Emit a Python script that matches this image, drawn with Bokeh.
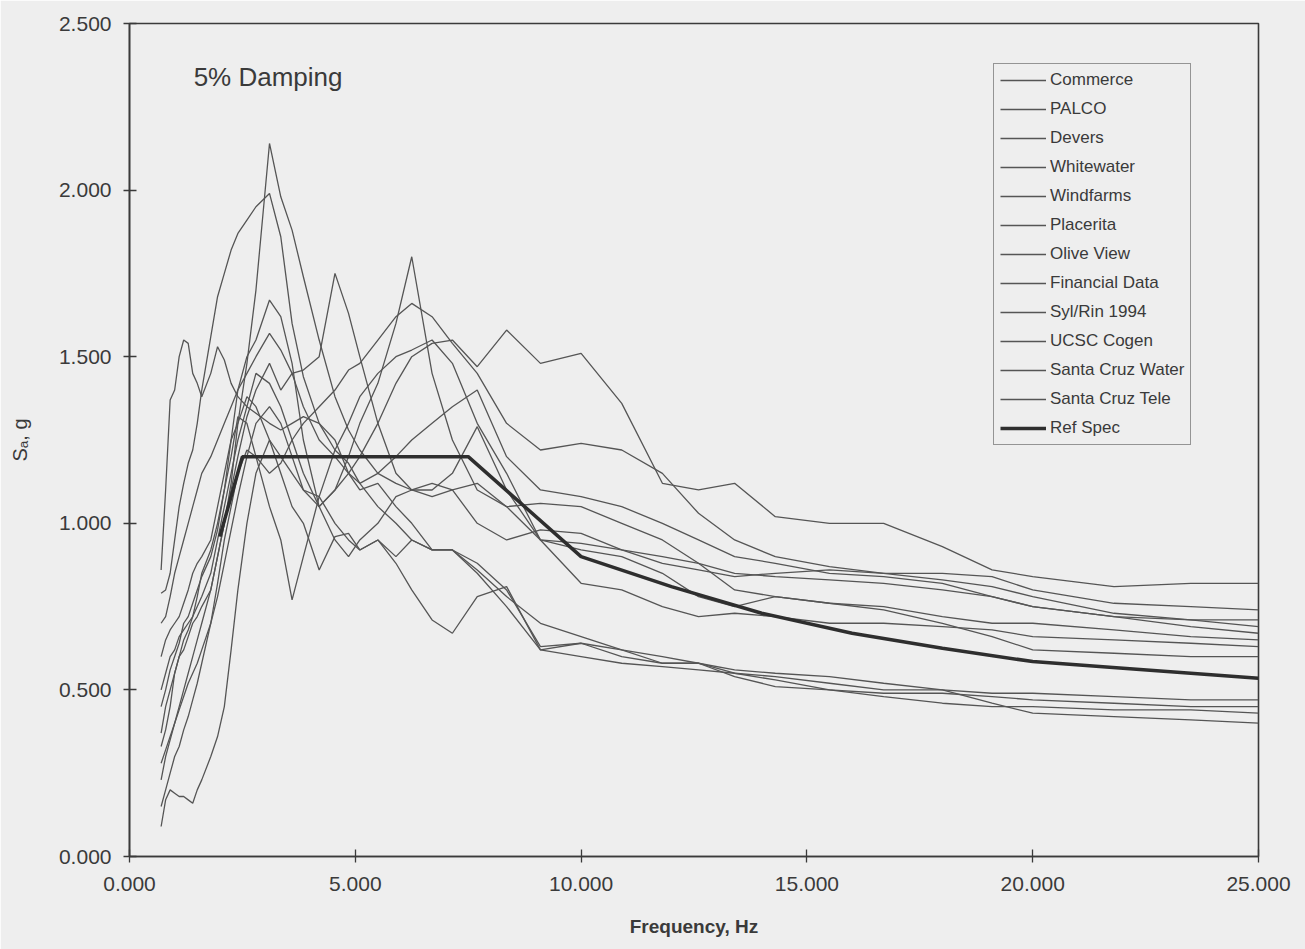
from bokeh.plotting import figure
from bokeh.models import Range1d, FixedTicker, NumeralTickFormatter, Label, Legend
from bokeh.embed import file_html
from bokeh.resources import INLINE

# Spectral acceleration (g) vs frequency (Hz), 5% damping
FREQ = [0.7, 0.8, 0.9, 1.0, 1.1, 1.2, 1.3, 1.4, 1.5, 1.6,
        1.8, 1.95, 2.1, 2.25, 2.4, 2.6, 2.8,
        3.1, 3.35, 3.6, 3.85,
        4.2, 4.55, 4.85, 5.1, 5.5, 5.9, 6.25, 6.7, 7.15, 7.7, 8.35, 9.1, 10.0,
        10.9, 11.8, 12.6, 13.4, 14.3, 15.5, 16.7, 18.0, 19.1, 20.0, 21.8, 23.5, 25.0]

commerce = [0.33, 0.38, 0.45, 0.55, 0.60, 0.62, 0.66, 0.70, 0.72, 0.75,
            0.80, 0.90, 1.00, 1.12, 1.30, 1.48, 1.70,
            2.14, 1.98, 1.88, 1.74,
            1.55, 1.38, 1.28, 1.22, 1.15, 1.12, 1.10, 1.12, 1.10, 1.00, 0.95, 0.98, 0.97,
            0.92, 0.90, 0.88, 0.85, 0.84, 0.83, 0.82, 0.80, 0.78, 0.75, 0.72, 0.71, 0.71]
palco = [0.79, 0.80, 0.85, 0.95, 1.05, 1.12, 1.18, 1.22, 1.30, 1.40,
         1.56, 1.68, 1.75, 1.82, 1.87, 1.91, 1.95,
         1.99, 1.86, 1.60, 1.44,
         1.30, 1.22, 1.18, 1.12, 1.05, 1.00, 0.95, 0.92, 0.92, 0.88, 0.80, 0.63, 0.64,
         0.60, 0.58, 0.58, 0.55, 0.54, 0.52, 0.50, 0.50, 0.49, 0.49, 0.48, 0.47, 0.47]
devers = [0.86, 1.10, 1.37, 1.40, 1.50, 1.55, 1.54, 1.45, 1.42, 1.38,
          1.45, 1.53, 1.49, 1.42, 1.38, 1.35, 1.33,
          1.30, 1.28, 1.30, 1.32,
          1.30, 1.25, 1.15, 1.10, 1.12, 1.05, 1.00, 0.92, 0.92, 0.85, 0.75, 0.62, 0.60,
          0.58, 0.57, 0.56, 0.55, 0.53, 0.50, 0.48, 0.46, 0.45, 0.45, 0.44, 0.44, 0.43]
whitewater = [0.23, 0.30, 0.35, 0.40, 0.45, 0.50, 0.55, 0.60, 0.65, 0.70,
              0.80, 0.90, 1.00, 1.10, 1.20, 1.32, 1.40,
              1.48, 1.40, 1.45, 1.46,
              1.50, 1.75, 1.63, 1.50, 1.30, 1.15, 1.10, 1.08, 1.10, 1.12, 1.05, 0.95, 0.94,
              0.92, 0.88, 0.86, 0.84, 0.85, 0.86, 0.85, 0.83, 0.81, 0.78, 0.73, 0.71, 0.69]
windfarms = [0.37, 0.45, 0.50, 0.55, 0.60, 0.65, 0.68, 0.72, 0.75, 0.78,
             0.85, 0.95, 1.05, 1.15, 1.25, 1.35, 1.45,
             1.42, 1.35, 1.25, 1.15,
             1.05, 1.10, 1.20, 1.30, 1.42, 1.60, 1.80, 1.45, 1.25, 1.10, 1.05, 1.06, 1.05,
             1.00, 0.95, 0.88, 0.80, 0.78, 0.76, 0.75, 0.72, 0.70, 0.70, 0.68, 0.66, 0.65]
placerita = [0.15, 0.20, 0.25, 0.30, 0.33, 0.38, 0.42, 0.47, 0.52, 0.58,
             0.70, 0.82, 0.95, 1.05, 1.15, 1.22, 1.20,
             1.15, 1.18, 1.25, 1.30,
             1.35, 1.40, 1.46, 1.48, 1.55, 1.62, 1.66, 1.62, 1.54, 1.45, 1.30, 1.22, 1.24,
             1.22, 1.15, 1.03, 0.95, 0.90, 0.87, 0.85, 0.85, 0.84, 0.80, 0.76, 0.75, 0.74]
olive_view = [0.70, 0.72, 0.78, 0.85, 0.90, 0.95, 1.00, 1.05, 1.10, 1.15,
              1.20, 1.25, 1.30, 1.35, 1.40, 1.45, 1.50,
              1.57, 1.52, 1.45, 1.35,
              1.25, 1.20, 1.15, 1.12, 1.15, 1.20, 1.25, 1.30, 1.35, 1.40, 1.20, 1.10, 1.08,
              1.05, 1.00, 0.95, 0.90, 0.88, 0.85, 0.84, 0.82, 0.78, 0.75, 0.72, 0.69, 0.67]
financial_data = [0.28, 0.32, 0.36, 0.40, 0.44, 0.48, 0.52, 0.55, 0.58, 0.62,
                  0.70, 0.78, 0.88, 0.98, 1.08, 1.20, 1.30,
                  1.35, 1.30, 1.20, 1.10,
                  1.05, 1.10, 1.15, 1.20, 1.30, 1.42, 1.50, 1.54, 1.55, 1.47, 1.58, 1.48, 1.51,
                  1.36, 1.12, 1.10, 1.12, 1.02, 1.00, 1.00, 0.93, 0.86, 0.84, 0.81, 0.82, 0.82]
sylrin_1994 = [0.45, 0.50, 0.56, 0.60, 0.64, 0.70, 0.72, 0.76, 0.80, 0.84,
               0.90, 0.98, 1.10, 1.25, 1.40, 1.50, 1.55,
               1.67, 1.62, 1.48, 1.25,
               1.05, 0.95, 0.90, 0.95, 1.00, 1.08, 1.10, 1.10, 1.15, 1.29, 1.10, 0.95, 0.92,
               0.90, 0.85, 0.78, 0.75, 0.78, 0.76, 0.74, 0.70, 0.66, 0.62, 0.61, 0.60, 0.60]
ucsc_cogen = [0.09, 0.17, 0.20, 0.19, 0.18, 0.18, 0.17, 0.16, 0.20, 0.23,
              0.30, 0.36, 0.45, 0.62, 0.80, 1.00, 1.15,
              1.25, 1.20, 1.15, 1.10,
              1.08, 1.00, 0.95, 0.92, 0.95, 0.88, 0.80, 0.71, 0.67, 0.78, 0.81, 0.62, 0.64,
              0.62, 0.58, 0.58, 0.56, 0.55, 0.54, 0.52, 0.50, 0.46, 0.43, 0.42, 0.41, 0.40]
santa_cruz_water = [0.50, 0.55, 0.60, 0.62, 0.66, 0.68, 0.70, 0.72, 0.78, 0.85,
                    0.92, 1.00, 1.10, 1.20, 1.32, 1.30, 1.20,
                    1.05, 0.95, 0.77, 0.90,
                    1.08, 1.22, 1.30, 1.38, 1.45, 1.50, 1.52, 1.55, 1.48, 1.30, 1.15, 0.95, 0.82,
                    0.80, 0.75, 0.72, 0.73, 0.72, 0.70, 0.70, 0.69, 0.68, 0.66, 0.65, 0.64, 0.63]
santa_cruz_tele = [0.60, 0.65, 0.68, 0.70, 0.72, 0.76, 0.80, 0.85, 0.88, 0.90,
                   0.95, 1.05, 1.15, 1.25, 1.30, 1.38, 1.35,
                   1.25, 1.15, 1.05, 1.00,
                   0.86, 0.96, 0.97, 0.92, 0.95, 0.90, 0.95, 0.92, 0.92, 0.86, 0.78, 0.70, 0.66,
                   0.62, 0.60, 0.58, 0.54, 0.51, 0.50, 0.49, 0.49, 0.48, 0.47, 0.46, 0.45, 0.45]

REF_FREQ = [2.0, 2.5, 7.5, 10.0, 12.0, 14.0, 16.0, 18.0, 20.0, 22.0, 25.0]
ref_spec = [0.96, 1.20, 1.20, 0.90, 0.81, 0.73, 0.67, 0.625, 0.585, 0.565, 0.535]

SERIES = [
    ("Commerce", commerce),
    ("PALCO", palco),
    ("Devers", devers),
    ("Whitewater", whitewater),
    ("Windfarms", windfarms),
    ("Placerita", placerita),
    ("Olive View", olive_view),
    ("Financial Data", financial_data),
    ("Syl/Rin 1994", sylrin_1994),
    ("UCSC Cogen", ucsc_cogen),
    ("Santa Cruz Water", santa_cruz_water),
    ("Santa Cruz Tele", santa_cruz_tele),
]

X_TICKS = [0, 5, 10, 15, 20, 25]
Y_TICKS = [0.0, 0.5, 1.0, 1.5, 2.0, 2.5]

BG = "#eeeeee"
INK = "#3a3a3a"
FONT = "Liberation Sans"

p = figure(width=1305, height=949, output_backend="svg", toolbar_location=None,
           x_range=Range1d(0, 25), y_range=Range1d(0, 2.5))
p.min_border_left = 129
p.min_border_right = 47
p.min_border_top = 23
p.min_border_bottom = 93
p.background_fill_color = BG
p.border_fill_color = BG
p.outline_line_color = INK
p.outline_line_width = 1.6
p.grid.visible = False

for ax in (p.xaxis[0], p.yaxis[0]):
    ax.axis_line_color = INK
    ax.axis_line_width = 1.6
    ax.major_tick_line_color = INK
    ax.major_tick_line_width = 1.3
    ax.major_tick_out = 6
    ax.major_tick_in = 7
    ax.minor_tick_line_color = None
    ax.major_label_text_font = FONT
    ax.major_label_text_color = INK
    ax.major_label_text_font_size = "21px"
    ax.axis_label_text_font = FONT
    ax.axis_label_text_color = INK
    ax.axis_label_text_font_style = "normal"
    ax.formatter = NumeralTickFormatter(format="0.000")

p.xaxis.ticker = FixedTicker(ticks=X_TICKS)
p.yaxis.ticker = FixedTicker(ticks=Y_TICKS)
p.xaxis.major_label_standoff = 14
p.yaxis.major_label_standoff = 12
p.xaxis.axis_label = "Frequency, Hz"
p.xaxis.axis_label_text_font_style = "bold"
p.xaxis.axis_label_text_font_size = "19px"
p.xaxis.axis_label_standoff = 22
p.yaxis.axis_label = "Sₐ, g"
p.yaxis.axis_label_text_font_size = "20px"
p.yaxis.axis_label_standoff = 25

items = []
for name, vals in SERIES:
    r = p.line(FREQ, vals, line_color="#555555", line_width=1.3)
    items.append((name, [r]))
ref = p.line(REF_FREQ, ref_spec, line_color="#2e2e2e", line_width=3.5)
items.append(("Ref Spec", [ref]))

legend = Legend(items=items, location=(864, 411))
legend.label_text_font = FONT
legend.label_text_font_size = "17px"
legend.label_text_color = INK
legend.glyph_width = 46
legend.glyph_height = 20
legend.label_height = 20
legend.label_standoff = 4
legend.spacing = 9
legend.padding = 6
legend.margin = 0
legend.border_line_color = INK
legend.border_line_width = 1.3
legend.background_fill_color = BG
legend.background_fill_alpha = 1.0
p.add_layout(legend)

p.add_layout(Label(x=1.42, y=2.34, text="5% Damping", text_font=FONT,
                   text_font_size="26px", text_color=INK, text_baseline="middle"))

open("out.html", "w").write(file_html(p, INLINE))
